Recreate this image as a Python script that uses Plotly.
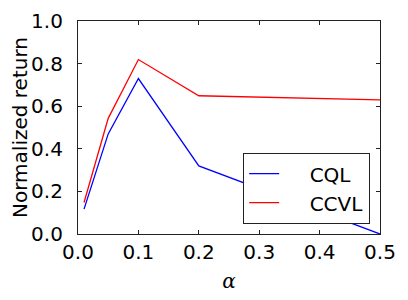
import plotly.graph_objects as go

alpha = [0.01, 0.05, 0.1, 0.2, 0.5]
cql = [0.117, 0.47, 0.73, 0.32, 0.0]
ccvl = [0.148, 0.543, 0.819, 0.649, 0.630]
x_ticks = [0.0, 0.1, 0.2, 0.3, 0.4, 0.5]
y_ticks = [0.0, 0.2, 0.4, 0.6, 0.8, 1.0]

FONT = "DejaVu Sans"
OFF = 8  # default page body margin

NB = "\u00a0" * 4
fig = go.Figure()
fig.add_trace(go.Scatter(x=alpha, y=cql, mode="lines", name=NB + "CQL",
                         line=dict(color="#0000ff", width=1.3), legendgroup="a"))
fig.add_trace(go.Scatter(x=alpha, y=ccvl, mode="lines", name=NB + "CCVL",
                         line=dict(color="#ff0000", width=1.3), legendgroup="b"))

axis_common = dict(
    showgrid=False, zeroline=False, showline=True, linecolor="#222222", linewidth=1.2,
    mirror="ticks", ticks="inside", ticklen=4, tickwidth=1, tickcolor="#222222",
    tickfont=dict(family=FONT, size=20, color="#000000"),
)

fig.update_xaxes(range=[0, 0.5], tickvals=x_ticks, ticktext=[f"{v:.1f}" for v in x_ticks],
                 ticklabelstandoff=0,
                 title=dict(text="α", font=dict(family="DejaVu Serif", size=20, style="italic", color="#000000"),
                            standoff=10),
                 **axis_common)
fig.update_yaxes(range=[0, 1.0], tickvals=y_ticks, ticktext=[f"{v:.1f}" for v in y_ticks],
                 ticklabelstandoff=10,
                 title=dict(text="Normalized return", font=dict(family=FONT, size=20, color="#000000"),
                            standoff=7),
                 **axis_common)

fig.update_layout(
    width=408, height=300,
    margin=dict(l=78 - OFF, r=408 - (380 - OFF), t=21 - OFF, b=300 - (234 - OFF), autoexpand=False),
    paper_bgcolor="white", plot_bgcolor="white",
    showlegend=True,
    legend=dict(xref="container", yref="container",
                x=(370 - OFF) / 408, xanchor="right",
                y=(300 - (224 - OFF)) / 300, yanchor="bottom",
                bordercolor="#222222", borderwidth=1.2, bgcolor="white",
                font=dict(family=FONT, size=20, color="#000000"),
                tracegroupgap=0, traceorder="grouped"),
)

fig.write_html("out.html")
